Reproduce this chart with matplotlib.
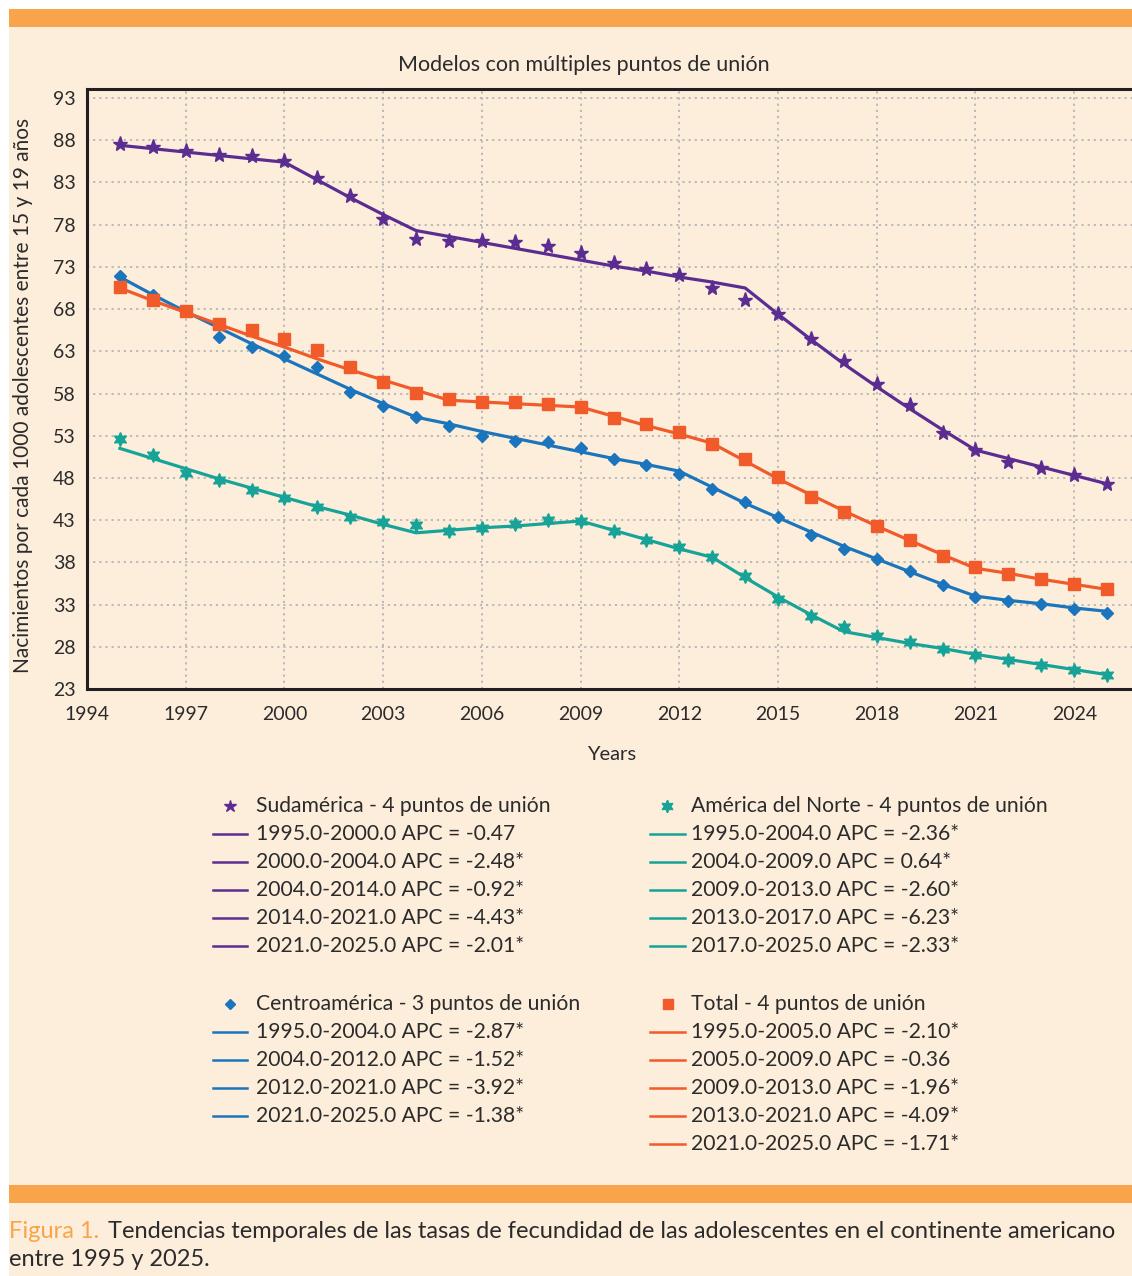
# plot.py
# Joinpoint trends of adolescent fertility rates in the Americas

import matplotlib
matplotlib.use("Agg")
import matplotlib.pyplot as plt
from matplotlib.lines import Line2D
from matplotlib.patches import Rectangle

plt.rcParams['font.family'] = ['Lato', 'DejaVu Sans']

years = list(range(1995, 2026))

# observed rates
sud_obs = [87.5, 87.2, 86.7, 86.2, 86.1, 85.5, 83.5, 81.4, 78.7, 76.3, 76.1,
           76.1, 76.0, 75.5, 74.7, 73.5, 72.7, 72.0, 70.5, 69.1, 67.4,
           64.4, 61.9, 59.1, 56.6, 53.3, 51.3, 49.9, 49.2, 48.3, 47.3]
centro_obs = [71.9, 69.7, 67.8, 64.7, 63.5, 62.4, 61.2, 58.2, 56.5, 55.2, 54.1,
              53.0, 52.4, 52.2, 51.6, 50.3, 49.5, 48.5, 46.7, 45.1, 43.4,
              41.3, 39.6, 38.4, 37.0, 35.3, 33.9, 33.4, 33.1, 32.5, 32.0]
norte_obs = [52.6, 50.7, 48.6, 47.7, 46.6, 45.6, 44.5, 43.4, 42.8, 42.4, 41.7,
             42.1, 42.6, 43.0, 42.9, 41.7, 40.6, 39.8, 38.6, 36.4, 33.7,
             31.6, 30.3, 29.3, 28.6, 27.7, 27.0, 26.4, 25.9, 25.3, 24.7]
total_obs = [70.6, 69.1, 67.8, 66.2, 65.5, 64.4, 63.1, 61.1, 59.4, 58.1, 57.3,
             57.0, 57.0, 56.8, 56.4, 55.1, 54.4, 53.5, 52.0, 50.2, 48.1,
             45.8, 44.0, 42.3, 40.7, 38.8, 37.4, 36.6, 36.0, 35.4, 34.8]

# fitted joinpoint models, read per year from the picture
sud_fit = [87.4, 87.0, 86.6, 86.2, 85.8, 85.4, 83.3, 81.2, 79.2, 77.3, 76.6,
           75.9, 75.2, 74.5, 73.8, 73.1, 72.5, 71.8, 71.2, 70.5, 67.4,
           64.4, 61.5, 58.8, 56.2, 53.7, 51.3, 50.3, 49.3, 48.3, 47.3]
centro_fit = [71.8, 69.7, 67.7, 65.8, 63.9, 62.1, 60.3, 58.5, 56.8, 55.2, 54.4,
              53.5, 52.7, 51.9, 51.1, 50.3, 49.6, 48.8, 46.9, 45.0, 43.3,
              41.6, 39.9, 38.4, 36.9, 35.4, 34.0, 33.5, 33.1, 32.6, 32.2]
norte_fit = [51.5, 50.3, 49.1, 47.9, 46.8, 45.7, 44.6, 43.6, 42.5, 41.5, 41.8,
             42.1, 42.3, 42.6, 42.9, 41.8, 40.7, 39.6, 38.6, 36.2, 33.9,
             31.8, 29.8, 29.1, 28.4, 27.8, 27.1, 26.5, 25.9, 25.3, 24.7]
total_fit = [70.5, 69.0, 67.6, 66.2, 64.8, 63.5, 62.1, 60.8, 59.6, 58.4, 57.2,
             57.0, 56.8, 56.6, 56.4, 55.3, 54.2, 53.2, 52.1, 50.0, 47.9,
             46.0, 44.1, 42.3, 40.6, 38.9, 37.3, 36.7, 36.0, 35.4, 34.8]

sud_labels = ["Sudamérica - 4 puntos de unión",
              "1995.0-2000.0 APC = -0.47",
              "2000.0-2004.0 APC = -2.48*",
              "2004.0-2014.0 APC = -0.92*",
              "2014.0-2021.0 APC = -4.43*",
              "2021.0-2025.0 APC = -2.01*"]
centro_labels = ["Centroamérica - 3 puntos de unión",
                 "1995.0-2004.0 APC = -2.87*",
                 "2004.0-2012.0 APC = -1.52*",
                 "2012.0-2021.0 APC = -3.92*",
                 "2021.0-2025.0 APC = -1.38*"]
norte_labels = ["América del Norte - 4 puntos de unión",
                "1995.0-2004.0 APC = -2.36*",
                "2004.0-2009.0 APC = 0.64*",
                "2009.0-2013.0 APC = -2.60*",
                "2013.0-2017.0 APC = -6.23*",
                "2017.0-2025.0 APC = -2.33*"]
total_labels = ["Total - 4 puntos de unión",
                "1995.0-2005.0 APC = -2.10*",
                "2005.0-2009.0 APC = -0.36",
                "2009.0-2013.0 APC = -1.96*",
                "2013.0-2021.0 APC = -4.09*",
                "2021.0-2025.0 APC = -1.71*"]

PURPLE = '#5c2d91'
BLUE = '#1b75bc'
TEAL = '#17a398'
ORANGE = '#f15a29'
CREAM = '#fdeedc'
BAR = '#f9a44a'
TXT = '#2b2b2b'
STAR6 = (6, 1, 0)

W, H = 1132, 1276
fig = plt.figure(figsize=(W / 100, H / 100), dpi=100)
fig.patch.set_facecolor('white')

def fx(px):
    return px / W

def fy(py):
    return 1 - py / H

# page background and orange bars
fig.add_artist(Rectangle((fx(9), 0), 1, fy(9), transform=fig.transFigure,
                         facecolor=CREAM, edgecolor='none', zorder=0))
fig.add_artist(Rectangle((fx(9), fy(27)), 1, 18 / H, transform=fig.transFigure,
                         facecolor=BAR, edgecolor='none', zorder=1))
fig.add_artist(Rectangle((fx(9), fy(1203)), 1, 18 / H, transform=fig.transFigure,
                         facecolor=BAR, edgecolor='none', zorder=1))

ax = fig.add_axes([fx(87), fy(689), fx(1132 - 87) + 0.01, (689 - 89) / H])
ax.set_facecolor(CREAM)
ax.set_xlim(1994, 2026.1)
ax.set_ylim(23, 94.07)
ax.set_xticks(range(1994, 2026, 3))
ax.set_yticks(range(23, 94, 5))
ax.grid(True, color='#b5b5b5', linestyle=(0, (1.2, 2.2)), linewidth=1.3)
ax.tick_params(length=0, labelsize=14, colors=TXT)
ax.tick_params(axis='x', pad=12)
ax.tick_params(axis='y', pad=8)
for s in ['left', 'bottom', 'top']:
    ax.spines[s].set_linewidth(2.2)
    ax.spines[s].set_color('#231f20')
ax.spines['right'].set_visible(False)
ax.set_xlabel("Years", fontsize=14.5, color=TXT)
ax.set_ylabel("Nacimientos por cada 1000 adolescentes entre 15 y 19 años",
              fontsize=15, color=TXT)
ax.xaxis.set_label_coords((612 - 87) / (1132 - 87 + 11.32), -(746 - 689) / 600)
ax.yaxis.set_label_coords(-(87 - 33) / (1132 - 87 + 11.32), (689 - 395) / 600)
fig.text(fx(584), fy(65), "Modelos con múltiples puntos de unión",
         fontsize=15.5, color=TXT, ha='center', va='center')

lw = 2.3
ax.plot(years, sud_fit, color=PURPLE, lw=lw, zorder=3)
ax.plot(years, sud_obs, linestyle='none', marker='*', ms=11, color=PURPLE, zorder=4)
ax.plot(years, centro_fit, color=BLUE, lw=lw, zorder=3)
ax.plot(years, centro_obs, linestyle='none', marker='D', ms=6.5, color=BLUE, zorder=4)
ax.plot(years, norte_fit, color=TEAL, lw=lw, zorder=3)
ax.plot(years, norte_obs, linestyle='none', marker=STAR6, ms=10, color=TEAL, zorder=4)
ax.plot(years, total_fit, color=ORANGE, lw=lw, zorder=3)
ax.plot(years, total_obs, linestyle='none', marker='s', ms=8, color=ORANGE, zorder=4)

# legend drawn by hand in two columns
def legend_block(labels, color, marker, ms, x_mark, x_line, x_text, y0):
    for i, lab in enumerate(labels):
        y = fy(y0 + 28 * i)
        if i == 0:
            fig.add_artist(Line2D([fx(x_mark)], [y], marker=marker, ms=ms,
                                  color=color, linestyle='none',
                                  transform=fig.transFigure))
        else:
            fig.add_artist(Line2D([fx(x_line[0]), fx(x_line[1])], [y, y],
                                  color=color, lw=1.8, transform=fig.transFigure))
        fig.text(fx(x_text), y, lab, fontsize=15.2, color=TXT,
                 ha='left', va='center')

legend_block(sud_labels, PURPLE, '*', 9, 230, (213, 247), 256, 806)
legend_block(centro_labels, BLUE, 'D', 5.5, 230, (213, 247), 256, 1004)
legend_block(norte_labels, TEAL, STAR6, 9, 667, (650, 685), 691, 806)
legend_block(total_labels, ORANGE, 's', 7, 668, (650, 685), 691, 1004)

# caption
fig.text(fx(9), fy(1231), "Figura 1.", fontsize=17, color=BAR,
         ha='left', va='center')
fig.text(fx(108), fy(1231),
         "Tendencias temporales de las tasas de fecundidad de las "
         "adolescentes en el continente americano",
         fontsize=17, color=TXT, ha='left', va='center')
fig.text(fx(9), fy(1260), "entre 1995 y 2025.", fontsize=17, color=TXT,
         ha='left', va='center')

fig.savefig("out.png", dpi=100, facecolor=fig.get_facecolor())
